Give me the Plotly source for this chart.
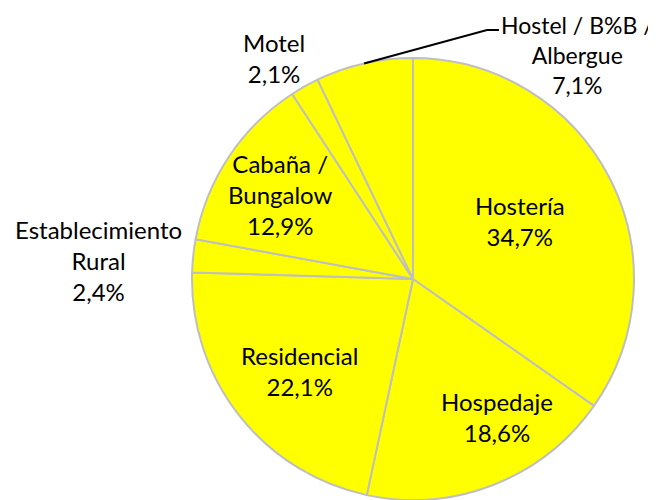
import numpy as np
import plotly.graph_objects as go

# data
labels = ["Hostería", "Hospedaje", "Residencial", "Establecimiento Rural",
          "Cabaña / Bungalow", "Motel", "Hostel / B%B / Albergue"]
values = [34.7, 18.6, 22.1, 2.4, 12.9, 2.1, 7.1]
pct_text = ["34,7%", "18,6%", "22,1%", "2,4%", "12,9%", "2,1%", "7,1%"]
label_lines = ["Hostería", "Hospedaje", "Residencial", "Establecimiento<br>Rural",
               "Cabaña /<br>Bungalow", "Motel", "Hostel / B%B /<br>Albergue"]

PAD = 8  # default body margin of the html page
W, H = 656 - PAD, 500 - PAD  # keep the figure inside the window
FONT = "Lato"
FS = 24

# pie placed in page pixels
PCX, PCY, PR = 413, 279, 221
dom_x = [(PCX - PAD - PR) / W, (PCX - PAD + PR) / W]
dom_y = [max(0, 1 - (PCY - PAD + PR) / H), 1 - (PCY - PAD - PR) / H]

fig = go.Figure()
fig.add_trace(go.Pie(
    labels=labels, values=values, textinfo="none",
    sort=False, direction="clockwise", rotation=0,
    marker=dict(colors=["#FFFF00"] * len(values), line=dict(color="#BFBFBF", width=2)),
    domain=dict(x=dom_x, y=dom_y),
    showlegend=False, hoverinfo="label+percent",
))

def paper(x, y):
    # page pixel -> paper coords
    return (x - PAD) / W, 1 - (y - PAD) / H

cum = np.cumsum([0] + values) / sum(values) * 360
mid = (cum[:-1] + cum[1:]) / 2

def polar(angle, r):
    a = np.deg2rad(angle)
    return PCX + r * np.sin(a), PCY - r * np.cos(a)

# inside labels: (angle shift from slice middle, radius fraction)
inside = {0: (-1, 0.55), 1: (-10, 0.73), 2: (-1, 0.66), 4: (-1, 0.71)}
for i, (da, rf) in inside.items():
    x, y = paper(*polar(mid[i] + da, rf * PR))
    fig.add_annotation(x=x, y=y, xref="paper", yref="paper",
                       text=f"{label_lines[i]}<br>{pct_text[i]}",
                       showarrow=False, align="center", xanchor="center", yanchor="middle",
                       font=dict(family=FONT, size=FS, color="black"))

# outside labels, page pixel centers and font size
outside = {3: (98, 260, FS), 5: (274, 58, FS), 6: (577, 55, 23)}
for i, (x, y, fs) in outside.items():
    px, py = paper(x, y)
    fig.add_annotation(x=px, y=py, xref="paper", yref="paper",
                       text=f"{label_lines[i]}<br>{pct_text[i]}",
                       showarrow=False, align="center", xanchor="center", yanchor="middle",
                       font=dict(family=FONT, size=fs, color="black"))

# leader line for Hostel label
pts = [paper(*polar(mid[6], PR)), paper(487, 30), paper(499, 30)]
path = "M {} {} L {} {} L {} {}".format(*[v for pt in pts for v in pt])
fig.add_shape(type="path", path=path, xref="paper", yref="paper",
              line=dict(color="black", width=2))

fig.update_layout(width=W, height=H, margin=dict(l=0, r=0, t=0, b=0),
                  paper_bgcolor="white", plot_bgcolor="white")

fig.write_html("out.html")
